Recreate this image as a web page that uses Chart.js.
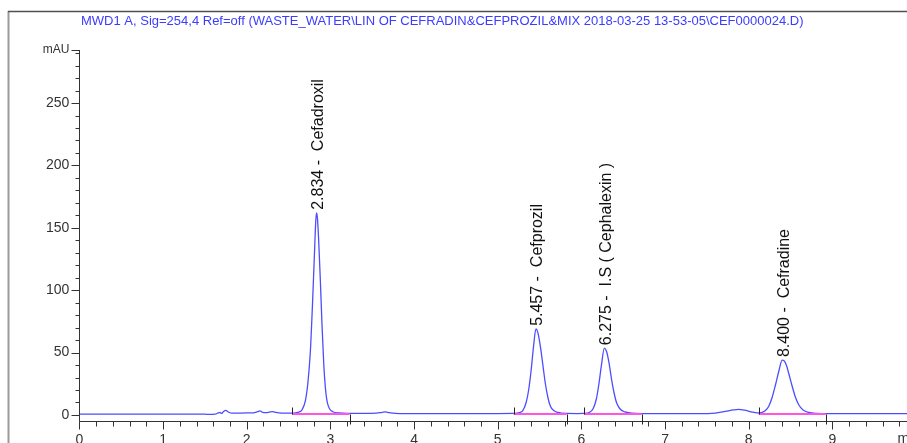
<!DOCTYPE html>
<html>
<head>
<meta charset="utf-8">
<script src="https://cdn.jsdelivr.net/npm/chart.js@4.4.1/dist/chart.umd.min.js"></script>
<style>
  html, body { margin: 0; padding: 0; background: #fff; overflow: hidden; }
  #wrap { position: absolute; left: 0; top: 0; width: 916px; height: 460px; }
</style>
</head>
<body>
<div id="wrap"><canvas id="chrom" width="916" height="460"></canvas></div>
<script>
// signal trace (min, mAU)
const times = [0.00, 0.50, 1.00, 1.50, 1.56, 1.62, 1.66, 1.68, 1.70, 1.72, 1.75, 1.78, 1.82, 1.90, 2.00, 2.08, 2.13, 2.16, 2.19, 2.23, 2.28, 2.31, 2.35, 2.42, 2.50,
  2.56, 2.62, 2.66, 2.70, 2.73, 2.76, 2.79, 2.81, 2.825, 2.834, 2.845, 2.86, 2.88, 2.90, 2.92, 2.94, 2.96, 2.99, 3.03, 3.10, 3.20,
  3.40, 3.55, 3.62, 3.66, 3.70, 3.78, 3.90, 4.20, 4.60, 5.00,
  5.19, 5.26, 5.30, 5.34, 5.37, 5.40, 5.43, 5.457, 5.48, 5.51, 5.54, 5.57, 5.60, 5.63, 5.67, 5.72, 5.82, 5.95,
  6.03, 6.10, 6.14, 6.18, 6.21, 6.24, 6.275, 6.30, 6.33, 6.36, 6.39, 6.42, 6.46, 6.52, 6.60, 6.72,
  7.00, 7.40, 7.60, 7.72, 7.82, 7.88, 7.95, 8.03, 8.10,
  8.15, 8.20, 8.24, 8.28, 8.32, 8.36, 8.40, 8.42, 8.45, 8.48, 8.52, 8.56, 8.60, 8.65, 8.72, 8.82, 8.92, 9.20, 9.60, 10.00];
const signal = [0.6, 0.6, 0.6, 0.6, 0.4, 0.6, 1.6, 2.0, 1.2, 2.6, 3.6, 2.4, 1.4, 1.5, 1.6, 1.7, 2.6, 3.2, 2.0, 1.8, 2.4, 2.6, 2.0, 1.5, 1.4,
  1.5, 2.2, 4, 11, 25, 50, 95, 130, 155, 162, 158, 140, 108, 72, 42, 22, 11, 5, 2.6, 1.6, 1.2,
  1.2, 1.4, 2.1, 2.4, 1.9, 1.2, 1.0, 1.1, 1.1, 1.1,
  1.2, 1.8, 3.5, 10, 20, 36, 56, 69, 66, 55, 40, 25, 14, 7, 3.5, 2.0, 1.2, 1.1,
  1.2, 2.2, 5, 13, 25, 40, 53.5, 51, 42, 29, 18, 10, 5, 2.4, 1.5, 1.1,
  1.0, 1.0, 1.5, 2.8, 4.0, 4.4, 3.8, 2.5, 1.6,
  1.8, 3.5, 7, 14, 24, 35, 44, 43.6, 40, 33, 23, 14, 8, 4, 2, 1.2, 1.0, 1.0, 1.0, 1.0];

// integrated peaks
const peakTimes = [2.834, 5.457, 6.275, 8.400];
const peakHeights = [162, 69, 53.5, 44];
const peakNames = ['Cefadroxil', 'Cefprozil', 'I.S ( Cephalexin )', 'Cefradine'];
const intStart = [2.54, 5.19, 6.03, 8.12];
const intEnd = [3.23, 5.825, 6.72, 8.92];
const intLevel = 0.8;

const yTicks = [0, 50, 100, 150, 200, 250];
const yMin = -4.6, yMax = 292.5;
const xMin = 0, xMax = 10;
const title = 'MWD1 A, Sig=254,4 Ref=off (WASTE_WATER\\LIN OF CEFRADIN&CEFPROZIL&MIX 2018-03-25 13-53-05\\CEF0000024.D)';

const tracePoints = times.map((t, i) => ({ x: t, y: signal[i] }));
const basePoints = [];
intStart.forEach((s, i) => {
  basePoints.push({ x: s, y: intLevel }, { x: intEnd[i], y: intLevel }, { x: intEnd[i], y: null });
});

const FONT = '"Liberation Sans", Arial, sans-serif';

// frame, title, axis lines + ticks, integration marks, peak labels
const decor = {
  id: 'decor',
  beforeDraw(chart) {
    const ctx = chart.ctx;
    ctx.save();
    ctx.strokeStyle = '#9a9a9a';
    ctx.lineWidth = 2;
    ctx.beginPath(); ctx.moveTo(8.5, 11); ctx.lineTo(8.5, 460); ctx.stroke();
    ctx.strokeStyle = '#505050';
    ctx.lineWidth = 1.5;
    ctx.beginPath(); ctx.moveTo(8, 11.5); ctx.lineTo(916, 11.5); ctx.stroke();
    ctx.fillStyle = '#3c3cff';
    ctx.font = '13px ' + FONT;
    ctx.textBaseline = 'middle';
    ctx.fillText(title, 81, 21.5);
    ctx.restore();
  },
  afterDraw(chart) {
    const ctx = chart.ctx, xs = chart.scales.x, ys = chart.scales.y, a = chart.chartArea;
    const L = Math.round(a.left) + 0.5, B = Math.round(a.bottom) + 0.5;
    ctx.save();
    ctx.strokeStyle = '#333';
    ctx.lineWidth = 1;
    ctx.beginPath();
    ctx.moveTo(L, a.top); ctx.lineTo(L, B);
    ctx.moveTo(L, B); ctx.lineTo(a.right, B);
    for (let k = 0; k <= 50; k++) {
      const px = Math.round(xs.getPixelForValue(k * 0.2)) + 0.5;
      const len = k % 5 === 0 ? 8 : 5;
      ctx.moveTo(px, B); ctx.lineTo(px, B + len);
    }
    for (let v = 0; v <= 290; v += 10) {
      const py = Math.round(ys.getPixelForValue(v)) + 0.5;
      const len = v % 50 === 0 ? 8 : 4;
      ctx.moveTo(L, py); ctx.lineTo(L - len, py);
    }
    const pt = Math.round(ys.getPixelForValue(yMax)) + 0.5;
    ctx.moveTo(L, pt); ctx.lineTo(L - 8, pt);
    ctx.stroke();

    // integration start / end marks
    const by = Math.round(ys.getPixelForValue(intLevel)) + 0.5;
    ctx.strokeStyle = '#222';
    ctx.beginPath();
    intStart.forEach(s => {
      const px = Math.round(xs.getPixelForValue(s)) + 0.5;
      ctx.moveTo(px, by); ctx.lineTo(px, by - 7);
    });
    intEnd.forEach(e => {
      const px = Math.round(xs.getPixelForValue(e)) + 0.5;
      ctx.moveTo(px, by); ctx.lineTo(px, by + 10);
    });
    ctx.stroke();

    // 'min' unit at end of time axis
    ctx.fillStyle = '#333';
    ctx.font = '14px ' + FONT;
    ctx.textBaseline = 'top';
    ctx.textAlign = 'left';
    ctx.fillText('min', xs.getPixelForValue(9.78), B + 11);

    // peak labels
    ctx.fillStyle = '#111';
    ctx.font = '16px ' + FONT;
    ctx.textBaseline = 'middle';
    peakTimes.forEach((t, i) => {
      const px = xs.getPixelForValue(t), py = ys.getPixelForValue(peakHeights[i]);
      ctx.save();
      ctx.translate(px + 2, py - 3);
      ctx.rotate(-Math.PI / 2);
      ctx.fillText(t.toFixed(3) + ' -  ' + peakNames[i], 0, 0);
      ctx.restore();
    });
    ctx.restore();
  }
};

new Chart(document.getElementById('chrom'), {
  type: 'line',
  data: {
    datasets: [
      {
        data: basePoints,
        borderColor: '#ff55e0',
        borderWidth: 2,
        pointRadius: 0,
        spanGaps: false,
        fill: false
      },
      {
        data: tracePoints,
        borderColor: '#4d4dff',
        borderWidth: 1.3,
        pointRadius: 0,
        cubicInterpolationMode: 'monotone',
        fill: false
      }
    ]
  },
  options: {
    responsive: false,
    animation: false,
    layout: { padding: { top: 50, left: 0, right: 0, bottom: 0 } },
    plugins: { legend: { display: false }, tooltip: { enabled: false }, title: { display: false } },
    scales: {
      x: {
        type: 'linear',
        min: xMin,
        max: xMax,
        grid: { display: false, drawTicks: false },
        border: { display: false },
        ticks: {
          stepSize: 1,
          autoSkip: false,
          maxRotation: 0,
          padding: 11,
          color: '#333',
          font: { family: FONT, size: 14 },
          callback: v => (v >= xMax ? '' : v)
        },
        afterFit: s => { s.height = 460 - 420.7; s.paddingLeft = 0; s.paddingRight = 0; }
      },
      y: {
        type: 'linear',
        min: yMin,
        max: yMax,
        grid: { display: false, drawTicks: false },
        border: { display: false },
        afterBuildTicks: s => { s.ticks = yTicks.concat([yMax]).map(v => ({ value: v })); },
        ticks: {
          padding: 10,
          color: '#333',
          font: c => ({ family: FONT, size: c.tick && c.tick.value === yMax ? 12 : 14 }),
          callback: v => (v === yMax ? 'mAU' : v)
        },
        afterFit: s => { s.width = 79.4; }
      }
    }
  },
  plugins: [decor]
});
</script>
</body>
</html>
